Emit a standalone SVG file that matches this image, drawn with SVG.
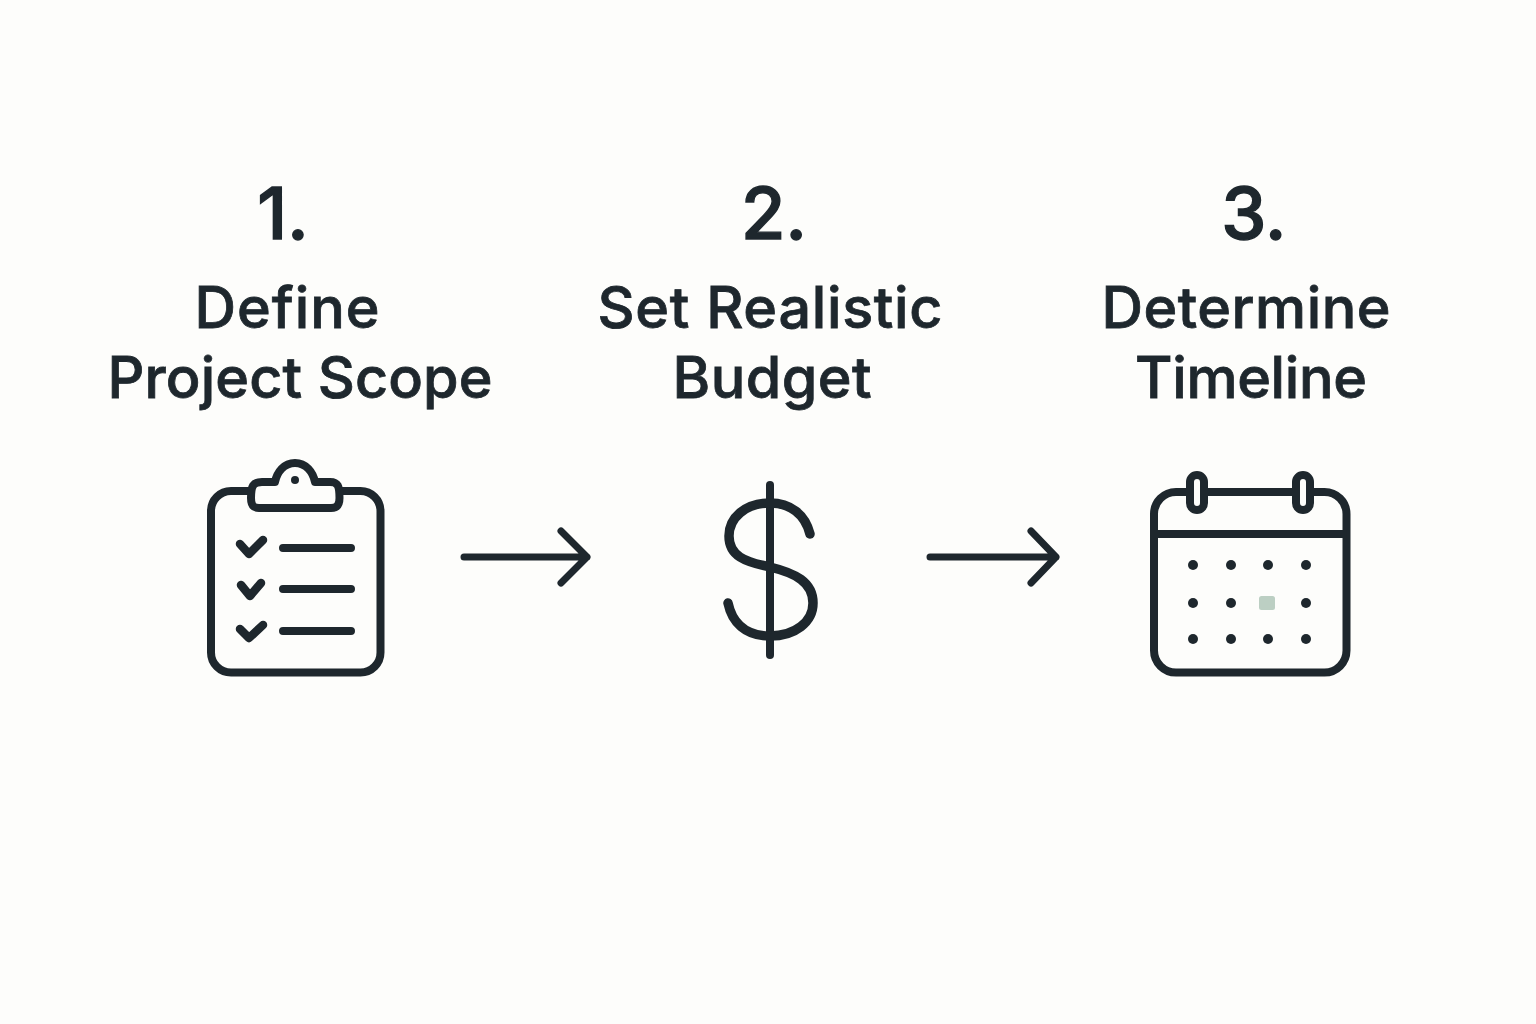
<svg xmlns="http://www.w3.org/2000/svg" width="1536" height="1024" viewBox="0 0 1536 1024">
<style>
text{font-family:Inter,"Liberation Sans",sans-serif;font-weight:500;fill:#1e272d;stroke:#1e272d;text-anchor:middle}
.n{font-size:72px;stroke-width:1.400}
.t{font-size:57.500px;stroke-width:0.800}
.s{fill:none;stroke:#1e272d;stroke-width:8;stroke-linecap:round;stroke-linejoin:round}
.d{fill:#1e272d}
</style>
<rect width="1536" height="1024" fill="#fdfdfb"/>
<g id="connectors">
<path class="s" style="stroke-width:7" d="M464 557H587M561 531L587 557L561 583"/>
<path class="s" style="stroke-width:7" d="M930 557H1056M1031 531L1056 557L1031 583"/>
</g>
<g id="step1">
<text class="n" x="283" y="239">1.</text>
<text class="t" x="287" y="328" textLength="185">Define</text>
<text class="t" x="300" y="398" textLength="385">Project Scope</text>
<rect class="s" x="211" y="491" width="169.500" height="181.500" rx="20"/>
<path d="M251 498C251 486 253 482 262 482H275C277 472 284 463 295 463C306 463 313 472 315 482H330C338 482 339.500 486 339.500 498C339.500 505 337 508 331 508H259C253 508 251 505 251 498Z" fill="#fdfdfb" stroke="#1e272d" stroke-width="8" stroke-linejoin="round"/>
<circle class="d" cx="295" cy="480" r="4"/>
<path class="s" style="stroke-width:8.500" d="M240 544L249 554L263 540M241 585L250 596L261 583M240 629L249 638L263 625"/>
<path class="s" d="M283 548H351M283 589H351M283 631H351"/>
</g>
<g id="step2">
<text class="n" x="774" y="239">2.</text>
<text class="t" x="770" y="328" textLength="345">Set Realistic</text>
<text class="t" x="772" y="398" textLength="199">Budget</text>
<path class="s" d="M770 485V655"/>
<path class="s" style="stroke-width:9.500" d="M810 534C805 514 790 503 770 503C745 503 729 518 729 536C729 556 745 562 770 567C795 573 813 582 813 603C813 622 795 636 770 636C745 636 732 622 728 603"/>
</g>
<g id="step3">
<text class="n" x="1254" y="239">3.</text>
<text class="t" x="1246" y="328" textLength="289">Determine</text>
<text class="t" x="1251" y="398" textLength="232">Timeline</text>
<rect class="s" x="1154" y="492" width="192.500" height="180.500" rx="22"/>
<path class="s" style="stroke-linecap:butt" d="M1154 534H1346.500"/>
<rect x="1190" y="475" width="14" height="35" rx="7" fill="#fdfdfb" stroke="#1e272d" stroke-width="8"/>
<rect x="1296" y="475" width="14" height="35" rx="7" fill="#fdfdfb" stroke="#1e272d" stroke-width="8"/>
<g class="d">
<circle cx="1193" cy="565" r="5"/><circle cx="1231" cy="565" r="5"/><circle cx="1268" cy="565" r="5"/><circle cx="1306" cy="565" r="5"/>
<circle cx="1193" cy="603" r="5"/><circle cx="1231" cy="603" r="5"/><circle cx="1306" cy="603" r="5"/>
<circle cx="1193" cy="639" r="5"/><circle cx="1231" cy="639" r="5"/><circle cx="1268" cy="639" r="5"/><circle cx="1306" cy="639" r="5"/>
</g>
<rect x="1259" y="596" width="16" height="14" rx="2.500" fill="#bccfc3"/>
</g>
</svg>
